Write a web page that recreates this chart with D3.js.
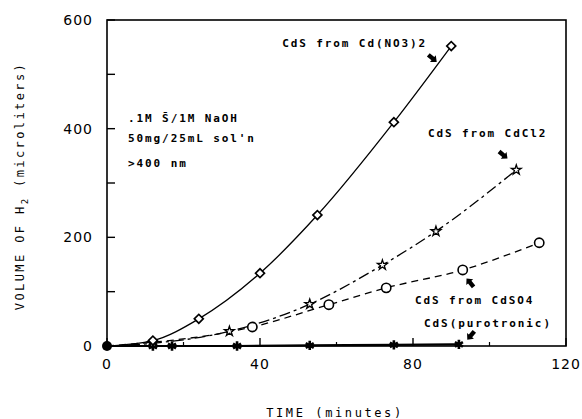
<!DOCTYPE html>
<html><head><meta charset="utf-8">
<script src="https://cdn.jsdelivr.net/npm/d3@7"></script>
<style>
body{margin:0;background:#fff;}
text{fill:#000;}
</style></head>
<body><svg id="c" width="582" height="419"></svg>
<script>
// ---- data ----
const xTicksMajor = [0, 40, 80, 120];
const xTicksMinor = [20, 60, 100];
const yTicksMajor = [0, 200, 400, 600];
const yTicksMinor = [100, 300, 500];

const nitrateX = [0, 12, 24, 40, 55, 75, 90];
const nitrateY = [0, 10, 50, 134, 241, 412, 552];

const chlorideX = [0, 12, 32, 53, 72, 86, 107];
const chlorideY = [0, 5, 27, 77, 149, 211, 324];

const sulfateX = [0, 38, 58, 73, 93, 113];
const sulfateY = [0, 35, 76, 107, 140, 190];

const puroX = [0, 12, 17, 34, 53, 75, 92];
const puroY = [0, 0, 0, 0, 1, 2, 3];

const labelText = ["CdS from Cd(NO3)2", "CdS from CdCl2", "CdS from CdSO4", "CdS(purotronic)"];
const labelX = [45.8, 83.9, 80.5, 82.9];
const labelY = [558, 392, 85, 42];
const arrowX = [85, 103.5, 95, 95.2];
const arrowY = [530, 352, 116, 20];
const arrowAngle = [40, 40, -130, 130];

const noteLines = [".1M S\u0304/1M NaOH", "50mg/25mL sol'n", ">400 nm"];
const noteY = [420, 383, 337];

// ---- drawing ----
const svg = d3.select("#c");
const x = d3.scaleLinear().domain([0, 120]).range([107, 566]);
const y = d3.scaleLinear().domain([0, 600]).range([346, 20]);
const mono = "'DejaVu Sans Mono', monospace";

// frame
svg.append("rect").attr("x", x(0)).attr("y", y(600))
  .attr("width", x(120) - x(0)).attr("height", y(0) - y(600))
  .attr("fill", "none").attr("stroke", "#000").attr("stroke-width", 1.6);

// ticks
svg.selectAll(".yt").data(yTicksMajor.concat(yTicksMinor)).enter().append("line")
  .attr("x1", x(0)).attr("x2", x(0) + 8)
  .attr("y1", d => y(d)).attr("y2", d => y(d))
  .attr("stroke", "#000").attr("stroke-width", 1.4);
svg.selectAll(".xt").data(xTicksMajor).enter().append("line")
  .attr("x1", d => x(d)).attr("x2", d => x(d))
  .attr("y1", y(0)).attr("y2", y(0) - 8)
  .attr("stroke", "#000").attr("stroke-width", 1.4);
svg.selectAll(".xtm").data(xTicksMinor).enter().append("line")
  .attr("x1", d => x(d)).attr("x2", d => x(d))
  .attr("y1", y(0)).attr("y2", y(0) - 4)
  .attr("stroke", "#000").attr("stroke-width", 1.2);

// tick labels
svg.selectAll(".yl").data(yTicksMajor).enter().append("text")
  .attr("x", x(0) - 14).attr("y", d => y(d) + 5)
  .attr("text-anchor", "end")
  .attr("font-family", "'DejaVu Sans', sans-serif").attr("font-size", 14)
  .attr("letter-spacing", 1)
  .text(d => d);
svg.selectAll(".xl").data(xTicksMajor).enter().append("text")
  .attr("x", d => x(d)).attr("y", y(0) + 23)
  .attr("text-anchor", "middle")
  .attr("font-family", "'DejaVu Sans', sans-serif").attr("font-size", 14)
  .attr("letter-spacing", 1)
  .text(d => d);

// axis titles
svg.append("text").attr("x", 335).attr("y", 417)
  .attr("text-anchor", "middle").attr("font-family", mono)
  .attr("font-size", 12).attr("letter-spacing", 2.6)
  .text("TIME (minutes)");
const yt = svg.append("text").attr("transform", "translate(24,186) rotate(-90)")
  .attr("text-anchor", "middle").attr("font-family", mono)
  .attr("font-size", 12).attr("letter-spacing", 2.4);
yt.append("tspan").text("VOLUME OF H");
yt.append("tspan").attr("dy", 4).attr("font-size", 9).text("2");
yt.append("tspan").attr("dy", -4).text("  (microliters)");

// lines
function zip(xs, ys) { return xs.map((v, i) => [v, ys[i]]); }
const lineGen = d3.line().x(d => x(d[0])).y(d => y(d[1])).curve(d3.curveMonotoneX);

svg.append("path").datum(zip(nitrateX, nitrateY)).attr("d", lineGen)
  .attr("fill", "none").attr("stroke", "#000").attr("stroke-width", 1.3);
svg.append("path").datum(zip(chlorideX, chlorideY)).attr("d", lineGen)
  .attr("fill", "none").attr("stroke", "#000").attr("stroke-width", 1.3)
  .attr("stroke-dasharray", "11,4,3,4");
svg.append("path").datum(zip(sulfateX, sulfateY)).attr("d", lineGen)
  .attr("fill", "none").attr("stroke", "#000").attr("stroke-width", 1.3)
  .attr("stroke-dasharray", "7,5");
svg.append("path").datum(zip(puroX, puroY)).attr("d", lineGen)
  .attr("fill", "none").attr("stroke", "#000").attr("stroke-width", 2.2);

// markers
function markers(xs, ys, type, size, fill, sw, rot) {
  const pts = zip(xs, ys).slice(1);
  svg.append("g").selectAll("path").data(pts).enter().append("path")
    .attr("transform", d => `translate(${x(d[0])},${y(d[1])}) rotate(${rot})`)
    .attr("d", d3.symbol().type(type).size(size))
    .attr("fill", fill).attr("stroke", "#000").attr("stroke-width", sw);
}
markers(puroX, puroY, d3.symbolAsterisk, 60, "none", 2.6, 0);
markers(sulfateX, sulfateY, d3.symbolCircle, 68, "#fff", 1.6, 0);
markers(chlorideX, chlorideY, d3.symbolStar, 30, "#fff", 1.3, 0);
markers(nitrateX, nitrateY, d3.symbolSquare, 40, "#fff", 1.7, 45);

// origin dot
svg.append("circle").attr("cx", x(0)).attr("cy", y(0)).attr("r", 5).attr("fill", "#000");

// series labels
svg.selectAll(".lab").data(labelText).enter().append("text")
  .attr("x", (d, i) => x(labelX[i])).attr("y", (d, i) => y(labelY[i]) + 4)
  .attr("font-family", mono).attr("font-size", 11).attr("letter-spacing", 1.9)
  .attr("font-weight", "bold")
  .text(d => d);

// arrows
svg.selectAll(".arr").data(arrowX).enter().append("path")
  .attr("transform", (d, i) => `translate(${x(d)},${y(arrowY[i])}) rotate(${arrowAngle[i]})`)
  .attr("d", "M-5,-2.2 L1,-2.2 L1,-4.5 L6,0 L1,4.5 L1,2.2 L-5,2.2 Z")
  .attr("fill", "#000");

// condition notes
svg.selectAll(".note").data(noteLines).enter().append("text")
  .attr("x", x(5.5)).attr("y", (d, i) => y(noteY[i]) + 4)
  .attr("font-family", mono).attr("font-size", 11).attr("letter-spacing", 1.9)
  .attr("font-weight", "bold")
  .text(d => d);
</script></body></html>
